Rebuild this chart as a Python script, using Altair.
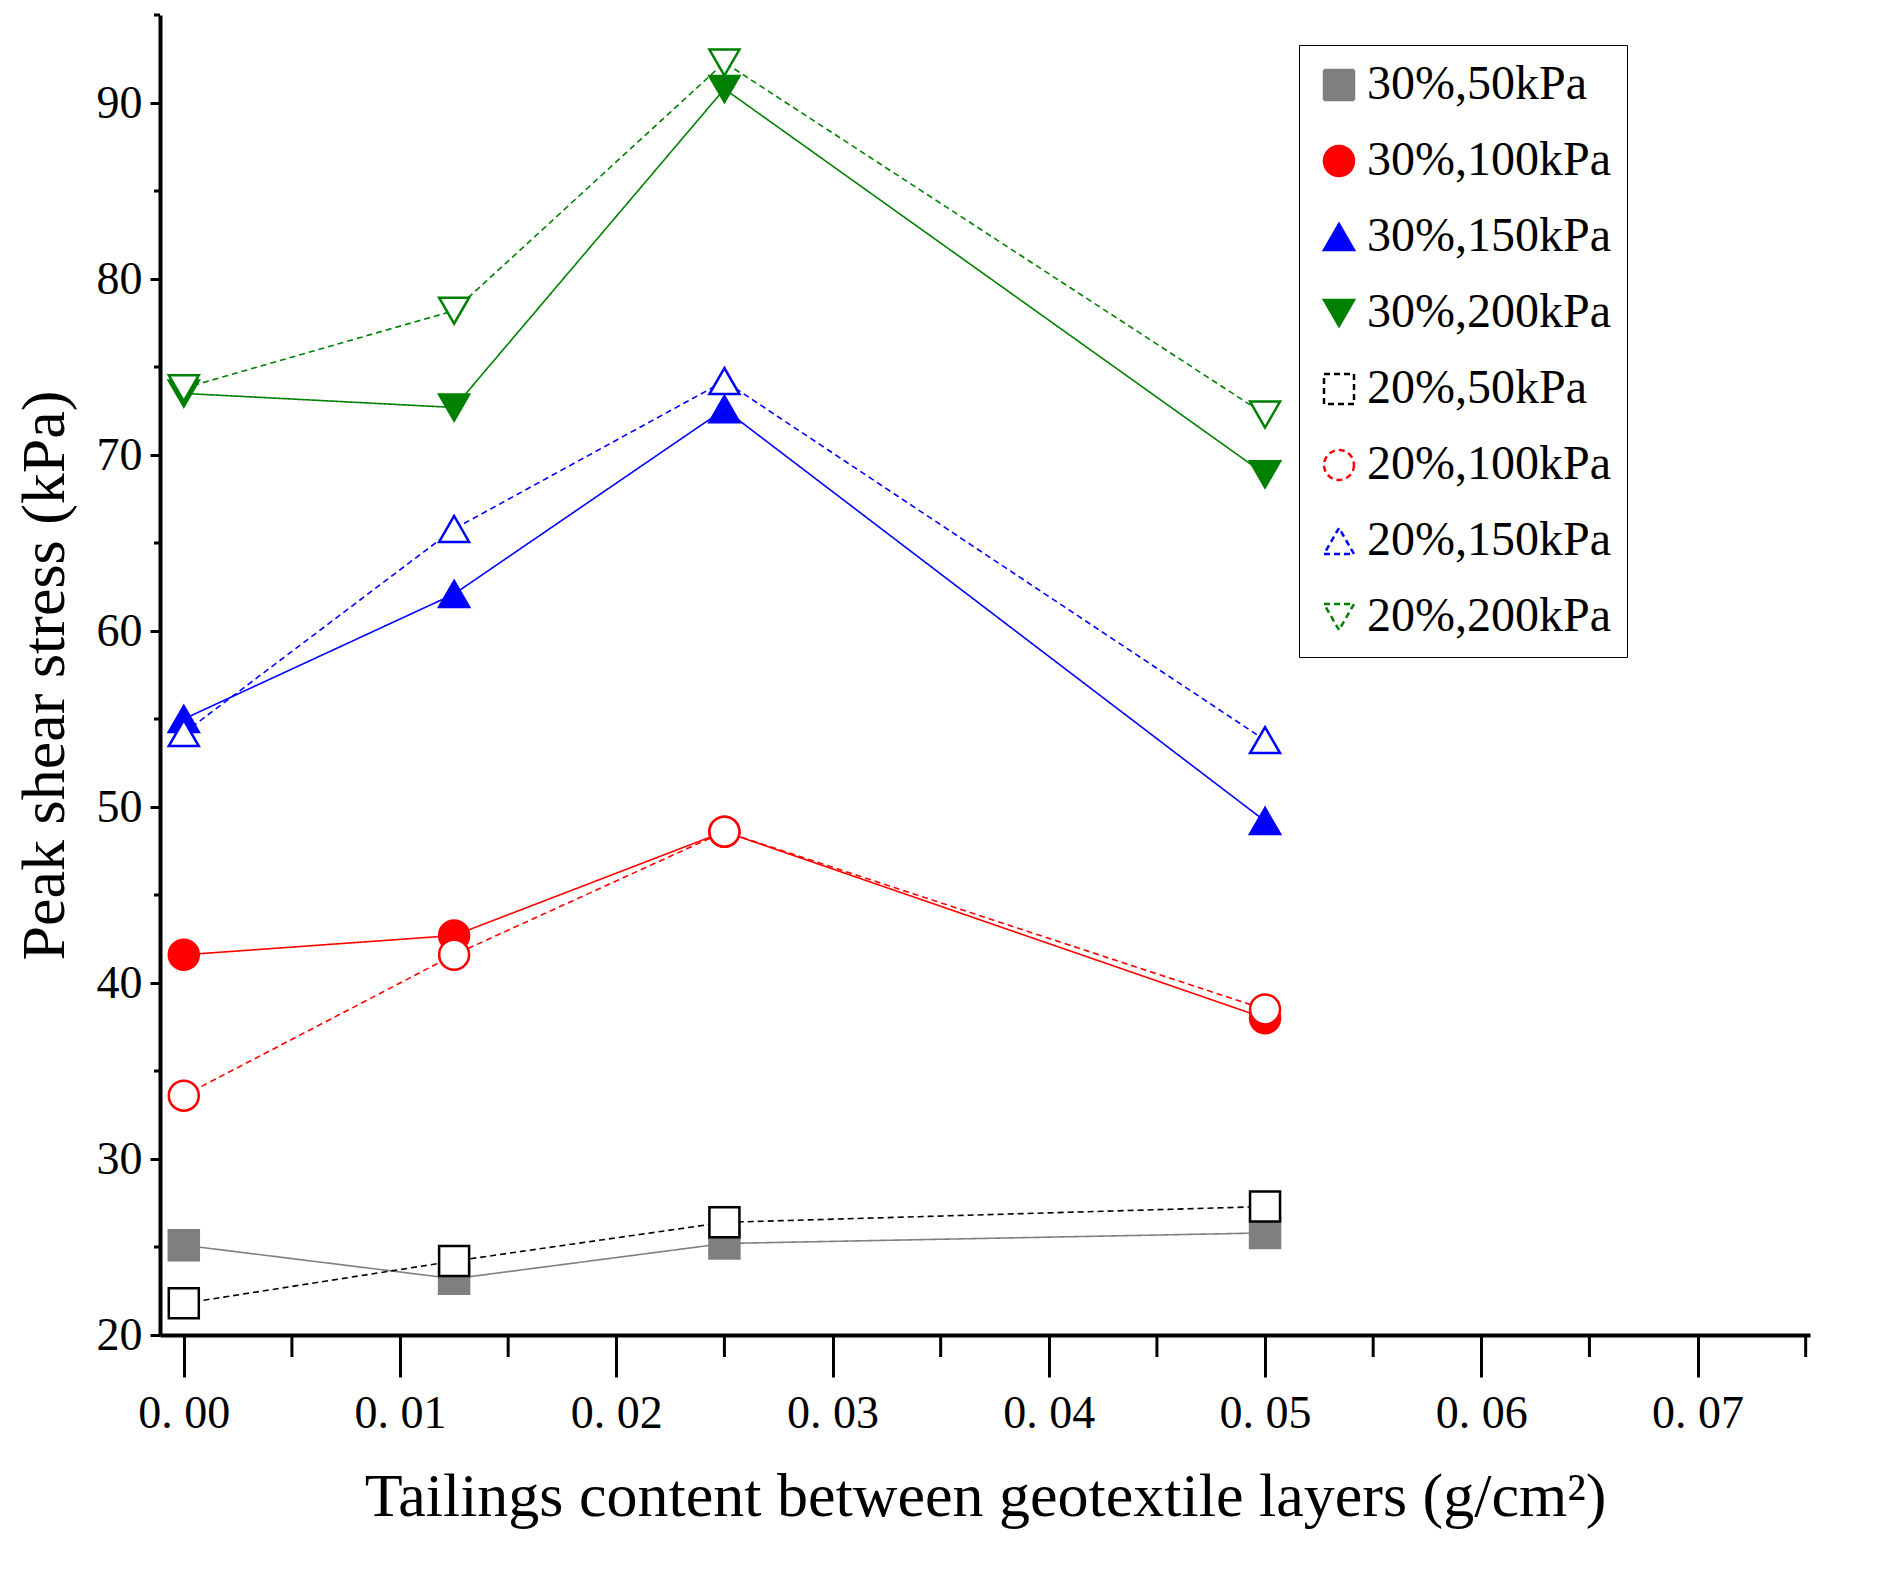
import altair as alt
import pandas as pd

x_vals = [0.0, 0.0125, 0.025, 0.05]
series_names = ["30%,50kPa", "30%,100kPa", "30%,150kPa", "30%,200kPa",
                "20%,50kPa", "20%,100kPa", "20%,150kPa", "20%,200kPa"]
s30_50 = [25.1, 23.2, 25.2, 25.8]
s30_100 = [41.6, 42.7, 48.6, 38.0]
s30_150 = [55.0, 62.1, 72.6, 49.2]
s30_200 = [73.5, 72.7, 90.8, 68.9]
s20_50 = [21.8, 24.2, 26.4, 27.3]
s20_100 = [33.6, 41.6, 48.6, 38.5]
s20_150 = [54.2, 65.8, 74.2, 53.8]
s20_200 = [73.8, 78.2, 92.3, 72.3]
all_series = [s30_50, s30_100, s30_150, s30_200, s20_50, s20_100, s20_150, s20_200]
minor_x = [0.005, 0.015, 0.025, 0.035, 0.045, 0.055, 0.065, 0.075]
minor_y = [25, 35, 45, 55, 65, 75, 85, 95]

rows = []
for name, vals in zip(series_names, all_series):
    for x, y in zip(x_vals, vals):
        rows.append({"series": name, "x": x, "y": y})
df = pd.DataFrame(rows)

colors = ["#7f7f7f", "red", "blue", "green", "black", "red", "blue", "green"]
fills = ["#7f7f7f", "red", "blue", "green", "white", "white", "white", "white"]
shapes = ["square", "circle", "triangle-up", "triangle-down"] * 2
dashes = [[1, 0]] * 4 + [[6, 4]] * 4

FONT = "Liberation Serif"
W, H = 1650, 1320
xscale = alt.Scale(domain=[-0.0011, 0.0752], nice=False, zero=False)
yscale = alt.Scale(domain=[20, 95], nice=False, zero=False)
lbl = "replace(format(datum.value, '.2f'), '.', '. ')"

legend = alt.Legend(title=None, orient="none", legendX=1139, legendY=30,
                    labelFont=FONT, labelFontSize=48, symbolSize=900,
                    symbolStrokeWidth=2.5, rowPadding=28,
                    strokeColor="black", padding=16, labelLimit=400)
color_enc = alt.Color("series:N", sort=series_names,
                      scale=alt.Scale(domain=series_names, range=colors), legend=legend)

base = alt.Chart(df)

lines = base.mark_line(strokeWidth=1.6).encode(
    x=alt.X("x:Q", scale=xscale,
            axis=alt.Axis(values=[0, 0.01, 0.02, 0.03, 0.04, 0.05, 0.06, 0.07],
                          labelExpr=lbl, tickSize=42, tickWidth=3, domainWidth=4,
                          labelPadding=14, labelFontSize=46, labelFont=FONT,
                          grid=False, title="Tailings content between geotextile layers (g/cm²)",
                          titleFont=FONT, titleFontSize=62, titleFontWeight="normal",
                          titlePadding=30)),
    y=alt.Y("y:Q", scale=yscale,
            axis=alt.Axis(values=[20, 30, 40, 50, 60, 70, 80, 90], tickSize=10, tickWidth=3,
                          domainWidth=4, labelFontSize=46, labelFont=FONT, grid=False,
                          labelPadding=8, title="Peak shear stress (kPa)", titleFont=FONT,
                          titleFontSize=62, titleFontWeight="normal", titlePadding=20)),
    color=color_enc,
    strokeDash=alt.StrokeDash("series:N", sort=series_names,
                              scale=alt.Scale(domain=series_names, range=dashes), legend=None),
)

points = base.mark_point(size=900, strokeWidth=2.5, opacity=1, filled=False).encode(
    x="x:Q",
    y="y:Q",
    color=color_enc,
    fill=alt.Fill("series:N", sort=series_names,
                  scale=alt.Scale(domain=series_names, range=fills), legend=legend),
    shape=alt.Shape("series:N", sort=series_names,
                    scale=alt.Scale(domain=series_names, range=shapes), legend=legend),
)

# minor ticks
xminor = alt.Chart(pd.DataFrame({"x": minor_x})).mark_rule(color="black", strokeWidth=3).encode(
    x="x:Q", y=alt.value(H), y2=alt.value(H + 22))
yminor = alt.Chart(pd.DataFrame({"y": minor_y})).mark_rule(color="black", strokeWidth=3).encode(
    y="y:Q", x=alt.value(0), x2=alt.value(-6))

chart = (
    alt.layer(lines, points, xminor, yminor)
    .properties(width=W, height=H)
    .configure_view(stroke=None)
    .configure_axis(domainColor="black", tickColor="black", labelColor="black", titleColor="black")
)
chart.save("out.html", embed_options={"renderer": "svg", "actions": False})
